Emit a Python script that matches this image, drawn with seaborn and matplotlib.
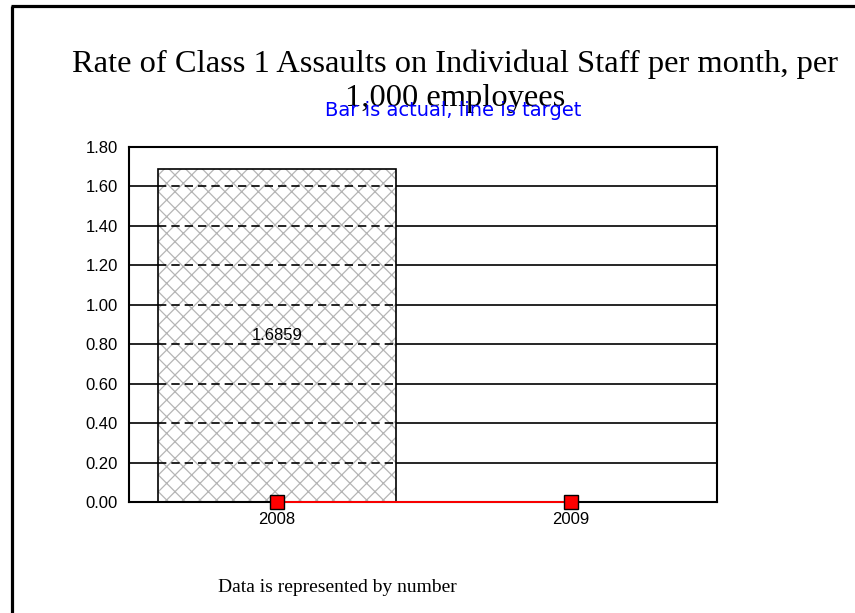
import numpy as np
import matplotlib
matplotlib.use("Agg")
import matplotlib.pyplot as plt
from matplotlib.colors import to_rgba
from matplotlib.lines import Line2D
import seaborn as sns

# ── Data ──────────────────────────────────────────────────────────────────────
years   = ["2008", "2009"]
actual  = [1.6859, np.nan]
target  = [0.0, 0.0]
y_ticks = [0.0, 0.2, 0.4, 0.6, 0.8, 1.0, 1.2, 1.4, 1.6, 1.8]

TITLE    = "Rate of Class 1 Assaults on Individual Staff per month, per\n1,000 employees"
SUBTITLE = "Bar is actual, line is target"
FOOTER   = "Data is represented by number"

HATCH_COLOR = "#b5b5b5"

sns.set_style("white")
plt.rcParams["font.family"] = ["Liberation Sans", "DejaVu Sans"]
plt.rcParams["hatch.linewidth"] = 0.9
plt.rcParams["text.color"] = "black"

fig = plt.figure(figsize=(8.55, 6.13), dpi=100)
ax = fig.add_axes([0.1509, 0.1811, 0.6877, 0.5791])

# gridlines behind everything
for y in y_ticks[1:]:
    ax.axhline(y, color="black", lw=1.2, zorder=1)

sns.barplot(x=years, y=actual, ax=ax, width=0.81, color="white",
            edgecolor="black", linewidth=1.2, hatch="xx", zorder=2)

# gridlines seen through the hatched bar look dashed
for bar, val in zip(ax.patches, actual):
    if hasattr(bar, "set_hatchcolor"):
        bar.set_hatchcolor(HATCH_COLOR)
    else:
        bar._hatch_color = to_rgba(HATCH_COLOR)
    if np.isnan(val):
        continue
    x0, w = bar.get_x(), bar.get_width()
    ax.hlines([y for y in y_ticks[1:] if y < val], x0, x0 + w,
              colors="black", linestyles=(0, (5, 3)), lw=1.2, zorder=3)
    ax.text(x0 + w / 2, val / 2, f"{val:.4f}", ha="center", va="center",
            fontsize=12, zorder=4)

xs = np.arange(len(years))
ax.plot(xs, target, color="red", lw=1.4, zorder=5, clip_on=False)
ax.plot(xs, target, ls="none", marker="s", markersize=9.5,
        markerfacecolor="red", markeredgecolor="black", markeredgewidth=1,
        zorder=6, clip_on=False)

ax.set_xlim(-0.503, 1.497)
ax.set_ylim(0, 1.8)
ax.set_yticks(y_ticks)
ax.set_yticklabels([f"{v:.2f}" for v in y_ticks])
ax.set_xticks(xs)
ax.set_xticklabels(years)
ax.tick_params(axis="both", length=0, labelsize=12, colors="black")
ax.tick_params(axis="y", pad=8)
ax.tick_params(axis="x", pad=7)
for s in ax.spines.values():
    s.set_color("black")
    s.set_linewidth(1.5)
    s.set_visible(True)

fig.text(0.532, 0.868, TITLE, ha="center", va="center", fontsize=23.4,
         family=["Liberation Serif", "DejaVu Serif"], linespacing=1.22,
         color="black")
fig.text(0.530, 0.819, SUBTITLE, ha="center", va="center", fontsize=14,
         family=["DejaVu Sans"], color="blue")
fig.text(0.395, 0.042, FOOTER, ha="center", va="center", fontsize=14,
         family=["Liberation Serif", "DejaVu Serif"], color="black")

# frame cut off at the image edge
fig.add_artist(Line2D([0.0146, 0.0146], [0.0, 0.9894], color="black", lw=2.3,
                      solid_capstyle="butt"))
fig.add_artist(Line2D([0.0129, 1.0], [0.9894, 0.9894], color="black", lw=2.3,
                      solid_capstyle="butt"))

fig.savefig("out.png", dpi=100, facecolor="white")
